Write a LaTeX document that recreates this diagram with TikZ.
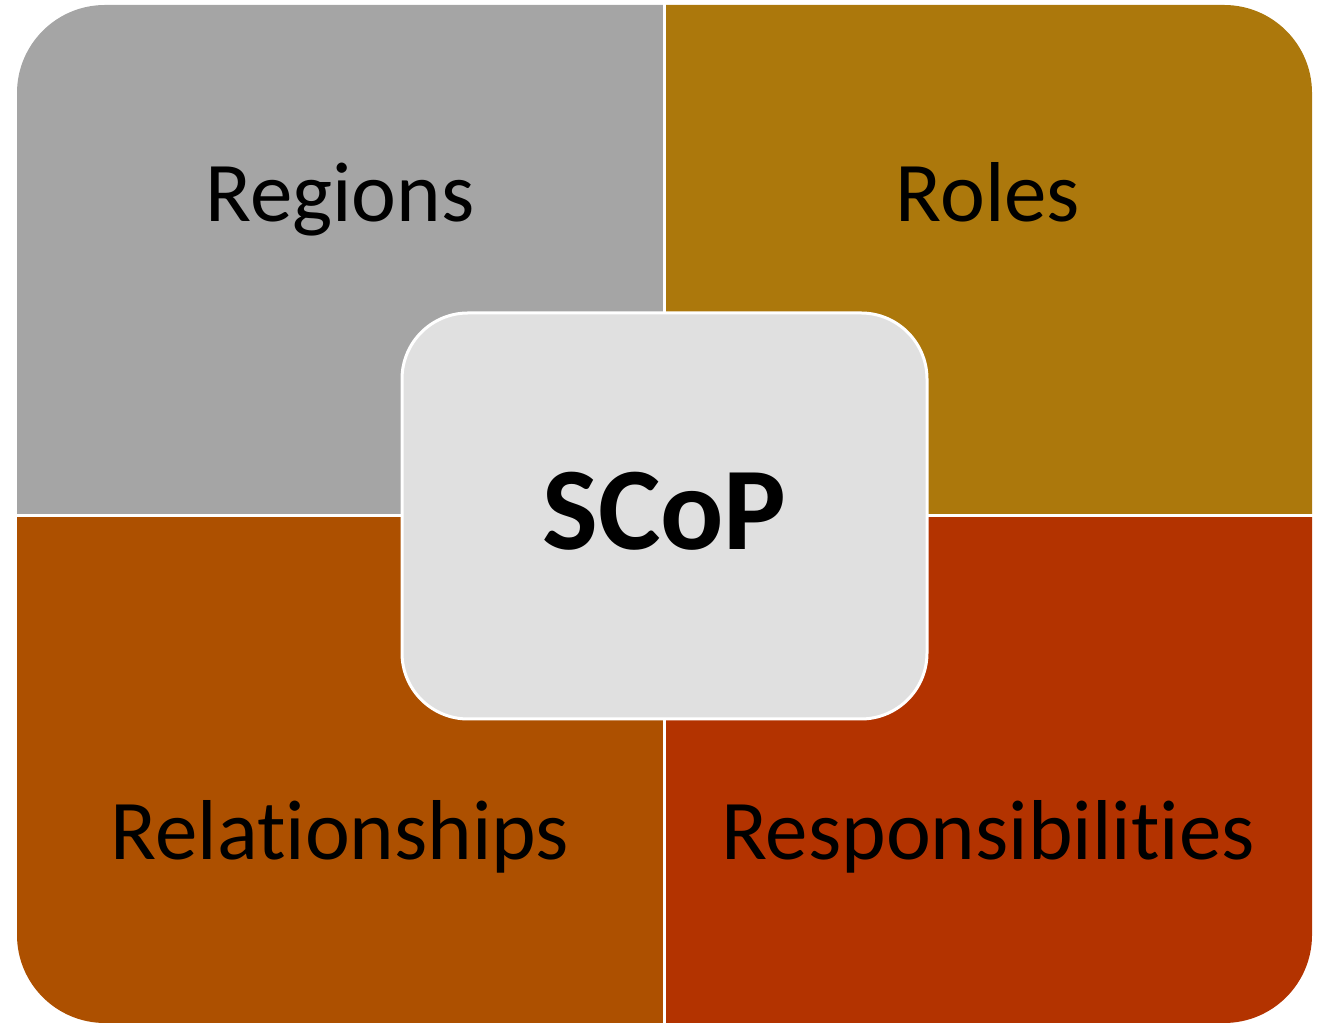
\documentclass[tikz,border=0pt]{standalone}
\usepackage{fontspec}
\setmainfont[Ligatures=NoCommon]{Carlito}
\definecolor{cgray}{HTML}{A5A5A5}
\definecolor{cgold}{HTML}{AC780C}
\definecolor{corange}{HTML}{AD5000}
\definecolor{cred}{HTML}{B33300}
\definecolor{ccenter}{HTML}{E0E0E0}
\begin{document}
\begin{tikzpicture}[x=1pt,y=1pt,
  lbl/.style={font=\fontsize{85}{100}\selectfont, text=black, inner sep=0pt, anchor=base},
  sep/.style={draw=white, line width=3pt},
  centerbox/.style={rectangle, rounded corners=66pt, fill=ccenter, draw=white, line width=3pt,
     minimum width=525pt, minimum height=406pt},
  centerlbl/.style={font=\fontsize{118}{130}\selectfont\bfseries, inner sep=0pt, anchor=base}]
\useasboundingbox (0,0) rectangle (1319,1024);
\def\R{88}
% top-left (Regions)
\fill[cgray] (664,508) -- (17,508) -- (17,1019-\R) arc[start angle=180,end angle=90,radius=\R] -- (664,1019) -- cycle;
% top-right (Roles)
\fill[cgold] (664,508) -- (664,1019) -- (1312-\R,1019) arc[start angle=90,end angle=0,radius=\R] -- (1312,508) -- cycle;
% bottom-left (Relationships)
\fill[corange] (664,508) -- (17,508) -- (17,1+\R) arc[start angle=180,end angle=270,radius=\R] -- (664,1) -- cycle;
% bottom-right (Responsibilities)
\fill[cred] (664,508) -- (664,1) -- (1312-\R,1) arc[start angle=270,end angle=360,radius=\R] -- (1312,508) -- cycle;
% separators
\coordinate (tm) at (664,1024);
\coordinate (bm) at (664,0);
\coordinate (lm) at (15,508);
\coordinate (rm) at (1314,508);
\draw[sep] (tm) -- (bm);
\draw[sep] (lm) -- (rm);
% labels
\node[lbl] (regions) at (340,802) {Regions};
\node[lbl] (roles) at (988,802) {Roles};
\node[lbl] (relationships) at (340,164) {Relationships};
\node[lbl] (responsibilities) at (988,164) {Responsibilities};
% center
\node[centerbox] (scop) at (664.5,508) {};
\node[centerlbl] (scoplbl) at (664.5,474) {SCoP};
\end{tikzpicture}
\end{document}
